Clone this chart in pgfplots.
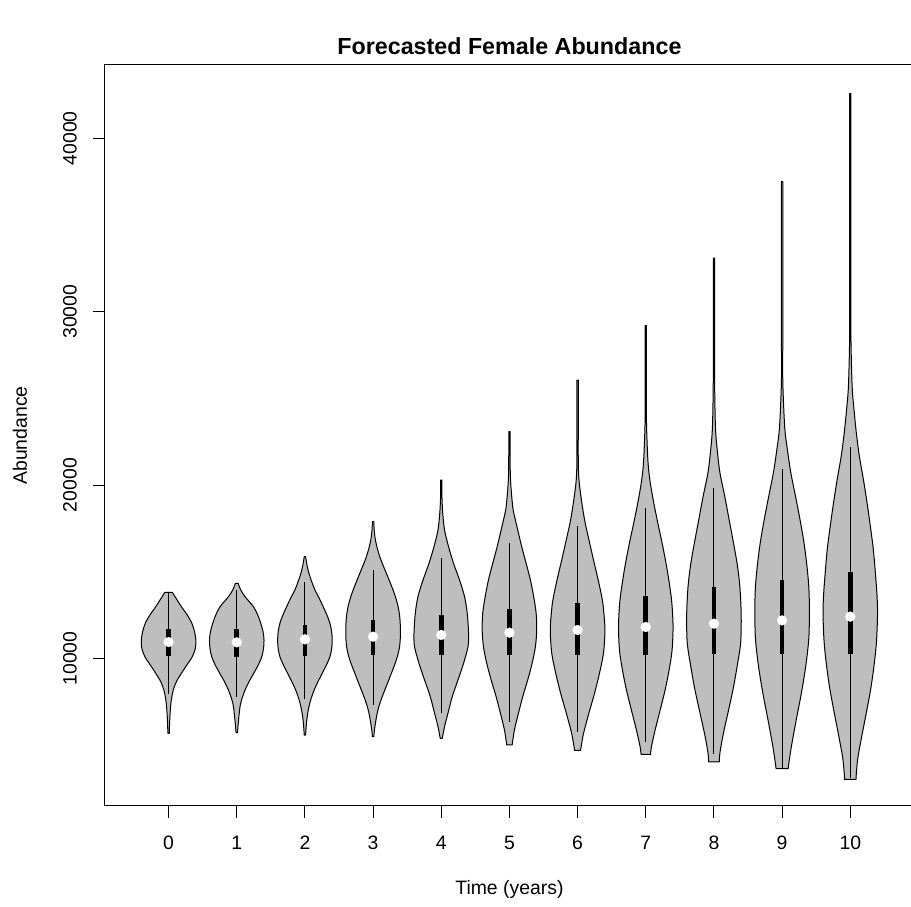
\documentclass[border=0pt]{standalone}
\usepackage{pgfplots}
\pgfplotsset{compat=1.18}
\usepackage{pgfplotstable}
\usepgfplotslibrary{fillbetween}
\usepackage{fontspec}
\setmainfont{Liberation Sans}
\definecolor{vgray}{RGB}{190,190,190}

\pgfplotstableread{
v w
5686 0.010
6453 0.017
7220 0.029
7705 0.044
8183 0.069
8662 0.114
9146 0.188
9625 0.268
10104 0.348
10588 0.393
11067 0.400
11546 0.381
12030 0.342
12509 0.274
12987 0.188
13472 0.110
13818 0.054
}\vzero
\pgfplotstableread{
v w
5720 0.010
6263 0.022
7220 0.048
7705 0.078
8183 0.122
8662 0.180
9146 0.249
9625 0.315
10104 0.367
10588 0.393
11067 0.400
11546 0.386
12030 0.352
12509 0.308
12987 0.245
13564 0.122
13950 0.059
14337 0.020
}\vone
\pgfplotstableread{
v w
5588 0.010
6263 0.022
6742 0.037
7220 0.059
7705 0.092
8183 0.136
8662 0.191
9146 0.254
9625 0.315
10104 0.367
10588 0.393
11067 0.400
11546 0.392
12030 0.367
12509 0.323
12987 0.268
13472 0.210
13950 0.147
14429 0.100
14913 0.059
15392 0.030
15871 0.010
}\vtwo
\pgfplotstableread{
v w
5490 0.010
5880 0.020
6263 0.034
6740 0.055
7220 0.084
7700 0.125
8183 0.172
8660 0.220
9146 0.268
9625 0.315
10104 0.356
10588 0.385
11067 0.398
11546 0.400
12030 0.398
12509 0.388
12987 0.367
13470 0.335
13950 0.293
14430 0.245
14913 0.195
15390 0.145
15871 0.098
16350 0.062
16834 0.034
17360 0.017
17889 0.010
}\vthree
\pgfplotstableread{
v w
5398 0.015
6067 0.048
6840 0.098
7797 0.161
8760 0.245
9723 0.327
10681 0.392
11453 0.400
12607 0.381
13564 0.342
14527 0.268
15490 0.180
16448 0.107
17411 0.048
18374 0.022
19331 0.010
20294 0.010
}\vfour
\pgfplotstableread{
v w
5012 0.040
5877 0.073
6840 0.132
7797 0.195
8760 0.268
9723 0.333
10681 0.381
11644 0.400
12607 0.392
13564 0.356
14527 0.308
15490 0.245
16448 0.180
17411 0.122
18080 0.082
18754 0.048
20294 0.016
21736 0.010
23080 0.010
}\vfive
\pgfplotstableread{
v w
4700 0.044
5623 0.084
6782 0.161
7941 0.245
9100 0.318
10260 0.378
11413 0.400
12111 0.396
13270 0.367
14423 0.308
15582 0.239
16742 0.172
17901 0.107
19060 0.059
20213 0.022
21373 0.010
23754 0.010
26050 0.010
}\vsix
\pgfplotstableread{
v w
4464 0.069
4931 0.084
5854 0.136
7013 0.210
8172 0.283
9331 0.342
10490 0.386
11874 0.400
13270 0.381
14423 0.342
15582 0.293
16742 0.235
17901 0.172
19060 0.113
20213 0.063
21373 0.032
23691 0.010
26349 0.010
29204 0.010
}\vseven
\pgfplotstableread{
v w
4043 0.078
4568 0.088
5629 0.136
6949 0.210
8273 0.283
9596 0.342
10917 0.392
12509 0.400
14095 0.381
15415 0.342
16742 0.283
18062 0.220
19383 0.157
20709 0.088
22030 0.048
23351 0.022
25998 0.010
29521 0.010
33085 0.010
}\veight
\pgfplotstableread{
v w
3645 0.088
4833 0.132
6419 0.205
8010 0.283
9596 0.348
11182 0.392
12768 0.400
14095 0.392
15415 0.362
16742 0.318
18062 0.260
19383 0.195
20709 0.128
22030 0.078
23351 0.038
25998 0.010
28645 0.010
32982 0.010
37503 0.010
}\vnine
\pgfplotstableread{
v w
3034 0.085
3166 0.085
4245 0.110
5588 0.172
6926 0.238
8273 0.301
9614 0.349
10957 0.384
12566 0.400
13639 0.392
14983 0.367
16326 0.337
17670 0.293
19008 0.245
20352 0.191
21695 0.132
23039 0.088
24377 0.054
25721 0.027
28408 0.010
31090 0.010
37019 0.010
42584 0.010
}\vten

% #1 position, #2 table, #3 whisker low, #4 whisker high, #5 Q1, #6 Q3, #7 median
\newcommand{\violin}[7]{%
  \addplot[draw=none, smooth, name path=R#1] table[x expr=#1+\thisrow{w}, y=v]{#2};
  \addplot[draw=none, smooth, name path=L#1] table[x expr=#1-\thisrow{w}, y=v]{#2};
  \addplot[fill=vgray, draw=black, line width=0.75pt, line join=round] fill between[of=R#1 and L#1, reverse=true];
  \addplot[black, line width=0.75pt] coordinates {(#1,#3) (#1,#4)};
  \addplot[black, line width=3.5pt] coordinates {(#1,#5) (#1,#6)};
  \addplot[only marks, mark=*, mark size=3.75pt, mark options={draw=white, fill=white, line width=0.1pt}] coordinates {(#1,#7)};
}

\begin{document}
\begin{tikzpicture}
\begin{axis}[
  at={(78.375pt,75.75pt)}, anchor=south west,
  scale only axis, width=607.4pt, height=555.75pt,
  xmin=-0.94, xmax=10.94, ymin=1494, ymax=44228,
  axis line style={black, line width=0.75pt},
  tick style={black, line width=0.75pt},
  tick align=outside, major tick length=9pt,
  xtick pos=left, ytick pos=left,
  xtick={0,1,2,3,4,5,6,7,8,9,10},
  xticklabels={0,1,2,3,4,5,6,7,8,9,10},
  ytick={10000,20000,30000,40000},
  yticklabels={10000,20000,30000,40000},
  scaled ticks=false,
  /pgf/number format/assume math mode=true,
  tick label style={font=\fontsize{14.55}{17}\selectfont},
  xticklabel style={anchor=center, inner sep=0pt, yshift=-18.75pt},
  yticklabel style={anchor=center, inner sep=0pt, xshift=-16.875pt, rotate=90},
  title={Forecasted Female Abundance},
  title style={font=\fontsize{17.46}{21}\selectfont\bfseries, at={(axis description cs:0.5,1.0149)}, anchor=center, inner sep=0pt},
  xlabel={Time (years)},
  xlabel style={font=\fontsize{14.55}{17}\selectfont, at={(axis description cs:0.5,-0.112)}, anchor=center, inner sep=0pt},
  ylabel={Abundance},
  ylabel style={font=\fontsize{14.55}{17}\selectfont, at={(axis description cs:-0.1043,0.5)}, anchor=center, inner sep=0pt},
]
\violin{0}{\vzero}{7950}{13750}{10144}{11684}{10950}
\violin{1}{\vone}{7797}{13950}{10104}{11684}{10934}
\violin{2}{\vtwo}{7647}{14429}{10161}{11932}{11107}
\violin{3}{\vthree}{7318}{15104}{10202}{12220}{11257}
\violin{4}{\vfour}{6840}{15779}{10202}{12509}{11355}
\violin{5}{\vfive}{6355}{16678}{10202}{12837}{11488}
\violin{6}{\vsix}{5779}{17659}{10202}{13218}{11644}
\violin{7}{\vseven}{5202}{18679}{10202}{13604}{11817}
\violin{8}{\veight}{4475}{19815}{10242}{14100}{12007}
\violin{9}{\vnine}{3714}{20957}{10242}{14539}{12197}
\violin{10}{\vten}{3100}{22209}{10242}{15000}{12416}
\end{axis}
\pgfresetboundingbox
\useasboundingbox (0pt,0pt) rectangle (683.25pt,680.25pt);
\end{tikzpicture}
\end{document}
